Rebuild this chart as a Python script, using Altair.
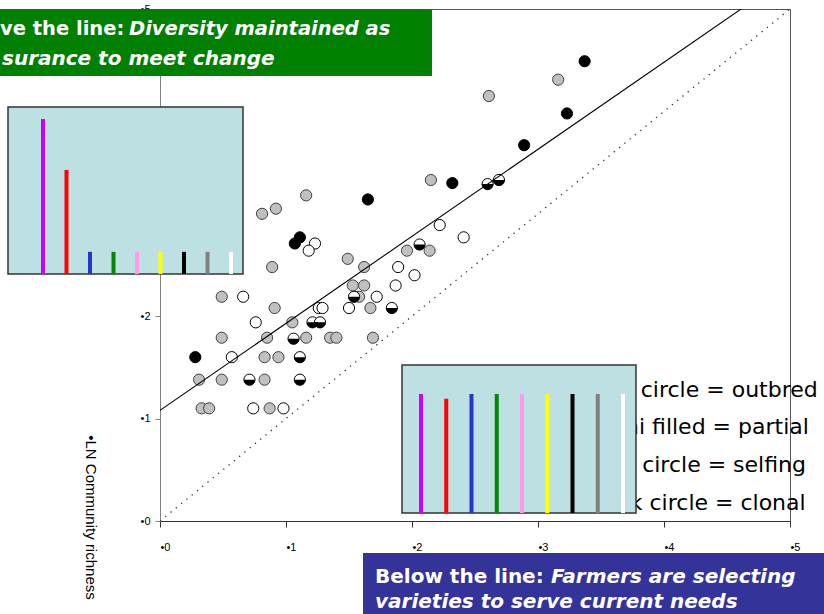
import altair as alt
import pandas as pd

# ---------------- data ----------------
# Main scatter (x = LN richness, y = LN community richness), by breeding system
gray_x = [2.15, 1.16, 0.92, 0.81, 0.89, 1.49, 1.62, 1.96, 2.14, 0.49, 0.91, 1.53, 1.62, 1.58, 1.67, 1.05,
          0.49, 0.85, 1.16, 1.35, 1.40, 1.69, 0.83, 0.94, 0.31, 0.49, 0.83, 0.33, 0.39, 0.87, 3.16, 2.61]
gray_y = [3.33, 3.18, 3.05, 3.00, 2.48, 2.56, 2.48, 2.64, 2.64, 2.19, 2.08, 2.30, 2.30, 2.19, 2.08, 1.94,
          1.79, 1.79, 1.79, 1.79, 1.79, 1.79, 1.60, 1.60, 1.38, 1.38, 1.38, 1.10, 1.10, 1.10, 4.31, 4.15]
open_x = [2.22, 2.41, 1.23, 1.18, 1.89, 2.02, 1.87, 1.72, 0.66, 1.26, 1.29, 1.50, 0.76, 0.57, 0.74, 0.98]
open_y = [2.89, 2.77, 2.71, 2.64, 2.48, 2.40, 2.30, 2.19, 2.19, 2.08, 2.08, 2.08, 1.94, 1.60, 1.10, 1.10]
black_x = [3.37, 3.23, 2.89, 2.32, 1.65, 1.11, 1.07, 0.28]
black_y = [4.49, 3.98, 3.67, 3.30, 3.14, 2.77, 2.71, 1.60]
semi_x = [2.06, 1.54, 1.84, 1.21, 1.27, 1.06, 1.11, 0.71, 1.11, 2.60, 2.69]
semi_y = [2.70, 2.19, 2.08, 1.94, 1.94, 1.78, 1.60, 1.38, 1.38, 3.29, 3.33]

# fitted line and 1:1 line (end points)
reg_x = [0, 5]
reg_y = [1.08, 5.33]
one_x = [0, 5]
one_y = [0, 5]

# inset bar charts (variety frequencies)
varieties = ["V1", "V2", "V3", "V4", "V5", "V6", "V7", "V8", "V9"]
variety_colors = ["#cc00ff", "#ff0000", "#2238cc", "#008800", "#ff99ee", "#ffff00", "#000000", "#808080", "#ffffff"]
left_vals = [0.70, 0.47, 0.10, 0.10, 0.10, 0.10, 0.10, 0.10, 0.10]
right_vals = [1.00, 0.96, 1.00, 1.00, 1.00, 1.00, 1.00, 1.00, 1.00]

tick_vals = [0, 1, 2, 3, 4, 5]
y_title = "•LN Community richness"
legend_lines = ["Open circle = outbred", "Semi filled = partial", "Grey circle = selfing", "Black circle = clonal"]

# ---------------- chart ----------------
S = 125
HALF = "M 1 0 C 1 0.552 0.552 1 0 1 C -0.552 1 -1 0.552 -1 0 Z"

X = alt.X("x:Q", scale=alt.Scale(domain=[0, 5], nice=False, zero=False),
          axis=alt.Axis(values=tick_vals, labelExpr="'•' + datum.label", labelAlign="left",
                        labelBaseline="top", labelPadding=14, tickSize=6, domainColor="#333333",
                        tickColor="#333333", labelFont="Liberation Sans", labelFontSize=11,
                        labelColor="black", grid=False, title=None, labelFlush=False,
                        labelOverlap=False, zindex=0))
Y = alt.Y("y:Q", scale=alt.Scale(domain=[0, 5], nice=False, zero=False),
          axis=alt.Axis(values=tick_vals, labelExpr="'•' + datum.label", labelAlign="right",
                        labelBaseline="middle", labelPadding=5, tickSize=5, domainColor="#808080",
                        tickColor="#808080", labelFont="Liberation Sans", labelFontSize=11,
                        labelColor="black", grid=False, labelFlush=False, labelOverlap=False,
                        title=y_title, titleAngle=90, titleX=-70, titleY=508, titleAlign="center",
                        titleBaseline="middle", titleFont="Liberation Sans", titleFontSize=15,
                        titleFontWeight="normal", titleColor="black", zindex=0))

df_gray = pd.DataFrame({"x": gray_x, "y": gray_y})
df_open = pd.DataFrame({"x": open_x, "y": open_y})
df_black = pd.DataFrame({"x": black_x, "y": black_y})
df_semi = pd.DataFrame({"x": semi_x, "y": semi_y})
df_reg = pd.DataFrame({"x": reg_x, "y": reg_y})
df_one = pd.DataFrame({"x": one_x, "y": one_y})

gray = alt.Chart(df_gray).mark_point(shape="circle", filled=True, fill="#c0c0c0", stroke="#404040",
                                     strokeWidth=1, size=S, opacity=1).encode(x=X, y=Y)
openc = alt.Chart(df_open).mark_point(shape="circle", filled=True, fill="white", stroke="black",
                                      strokeWidth=1, size=S, opacity=1).encode(x=X, y=Y)
semi_base = alt.Chart(df_semi).mark_point(shape="circle", filled=True, fill="white", stroke="black",
                                          strokeWidth=1, size=S, opacity=1).encode(x=X, y=Y)
semi_half = alt.Chart(df_semi).mark_point(shape=HALF, filled=True, fill="black", strokeWidth=0,
                                          size=S, opacity=1).encode(x=X, y=Y)
black = alt.Chart(df_black).mark_point(shape="circle", filled=True, fill="black", stroke="black",
                                       strokeWidth=1, size=S, opacity=1).encode(x=X, y=Y)
one_line = alt.Chart(df_one).mark_line(clip=True, color="#333333", strokeWidth=1.3,
                                       strokeDash=[1.3, 5.5]).encode(x=X, y=Y)
reg_line = alt.Chart(df_reg).mark_line(clip=True, color="black", strokeWidth=1.1).encode(x=X, y=Y)

main = alt.layer(gray, openc, semi_base, semi_half, black, one_line, reg_line)

one = pd.DataFrame({"k": [0]})


def rect(x, x2, y, y2, **kw):
    return alt.Chart(one).mark_rect(**kw).encode(x=alt.value(x), x2=alt.value(x2),
                                                 y=alt.value(y), y2=alt.value(y2))


def text(s, x, y, **kw):
    return alt.Chart(one).mark_text(text=s, baseline="alphabetic", **kw).encode(
        x=alt.value(x), y=alt.value(y))


# legend text (partly hidden by the right inset)
leg_x = [415, 430, 423, 423]
leg_y = [388, 425, 463, 501]
legend = [text(s, lx, ly, align="left", font="DejaVu Sans", fontSize=22, color="black")
          for s, lx, ly in zip(legend_lines, leg_x, leg_y)]

color_enc = alt.Color("variety:N", scale=alt.Scale(domain=varieties, range=variety_colors), legend=None)

df_left = pd.DataFrame({"variety": varieties, "value": left_vals})
df_right = pd.DataFrame({"variety": varieties, "value": right_vals})

left_box = rect(-152, 83, 98, 265, fill="#bde0e3", stroke="#333333", strokeWidth=1.5)
left_bars = alt.Chart(df_left).mark_rule(strokeWidth=4).encode(
    x=alt.X("variety:N", scale=alt.Scale(type="point", domain=varieties, range=[-117, 71], padding=0), axis=None),
    y=alt.Y("value:Q", scale=alt.Scale(domain=[0, 0.7], range=[265, 110], nice=False, zero=False), axis=None),
    y2=alt.datum(0),
    color=color_enc)

right_box = rect(242, 476, 356, 504, fill="#bde0e3", stroke="#333333", strokeWidth=1.5)
right_bars = alt.Chart(df_right).mark_rule(strokeWidth=4).encode(
    x=alt.X("variety:N", scale=alt.Scale(type="point", domain=varieties, range=[261, 463], padding=0), axis=None),
    y=alt.Y("value:Q", scale=alt.Scale(domain=[0, 1.0], range=[504, 385], nice=False, zero=False), axis=None),
    y2=alt.datum(0),
    color=color_enc)

bold = dict(font="DejaVu Sans", fontWeight="bold", color="white")
green_box = rect(-165, 272, 0, 67, fill="#008000")
green_t1 = text("ve the line:", -160, 26, align="left", fontSize=19.5, **bold)
green_t2 = text("Diversity maintained as", -31, 26, align="left", fontStyle="italic", fontSize=19.5, **bold)
green_t3 = text("surance to meet change", -158, 56, align="left", fontStyle="italic", fontSize=20, **bold)

blue_box = rect(203, 680, 544, 612, fill="#333399")
blue_t1 = text("Below the line:", 215, 574, align="left", fontSize=20, **bold)
blue_t2 = text("Farmers are selecting", 391, 574, align="left", fontStyle="italic", fontSize=20, **bold)
blue_t3 = text("varieties to serve current needs", 215, 599, align="left", fontStyle="italic", fontSize=20, **bold)

chart = alt.layer(
    main, *legend, left_box, left_bars, right_box, right_bars,
    green_box, green_t1, green_t2, green_t3, blue_box, blue_t1, blue_t2, blue_t3
).resolve_scale(x="independent", y="independent").properties(
    width=630, height=512,
    padding={"left": 160, "top": 9, "right": 34, "bottom": 93},
    autosize=alt.AutoSizeParams(type="none"),
    background="white",
).configure_view(stroke="#555555", strokeWidth=1)

chart.save("out.html", embed_options={"renderer": "svg", "actions": False})
